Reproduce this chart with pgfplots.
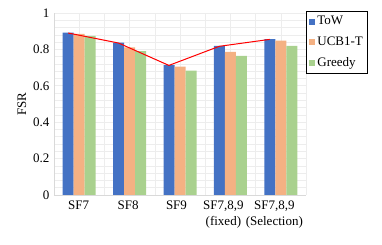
\documentclass[border=0pt]{standalone}
\usepackage{fontspec}
\setmainfont{Liberation Serif}
\newfontfamily\tnr{Liberation Serif}
\usepackage{pgfplots}
\pgfplotsset{compat=1.18}
\definecolor{cTow}{HTML}{4472C4}
\definecolor{cUcb}{HTML}{F4B183}
\definecolor{cGr}{HTML}{A9D18E}
\definecolor{gmaj}{HTML}{D9D9D9}
\definecolor{gmin}{HTML}{EDEDED}
\newcommand{\pad}[1]{\rule{#1}{0pt}}
\begin{document}
\tnr\fontsize{13bp}{15bp}\selectfont
\begin{tikzpicture}[font=\tnr]
\begin{axis}[
  at={(0,0)}, anchor=south west,
  scale only axis,
  width=252bp, height=182bp,
  ybar=0pt, bar width=11bp,
  xmin=-0.5, xmax=4.5,
  ymin=0, ymax=1,
  xtick={0,1,2,3,4},
  xticklabels={SF7\pad{1bp},SF8\pad{3bp},SF9\pad{7bp},{SF7,8,9\pad{14bp}\\(fixed)\pad{14bp}},{SF7,8,9\pad{13bp}\\(Selection)\pad{13bp}}},
  xticklabel style={align=center, font=\tnr\fontsize{13bp}{16bp}\selectfont, yshift=-1bp},
  minor xtick={-0.5,0.5,1.5,2.5,3.5,4.5},
  ytick={0,0.2,0.4,0.6,0.8,1},
  minor ytick={0.04,0.08,...,0.97},
  yticklabel style={font=\tnr\fontsize{13bp}{15bp}\selectfont},
  /pgf/number format/assume math mode=true,
  major tick length=0pt, minor tick length=0pt,
  ymajorgrids, xminorgrids, yminorgrids, xmajorgrids,
  major grid style={gmin, line width=0.6bp},
  minor grid style={gmin, line width=0.6bp},
  axis line style={gmaj, line width=0.8bp},
  axis x line*=bottom, axis y line*=left,
  ylabel={FSR},
  ylabel style={font=\tnr\fontsize{13bp}{15bp}\selectfont, yshift=-2bp},
  legend style={at={(1,1.011)}, anchor=north west, draw=black, line width=0.8bp,
    font=\tnr\fontsize{13bp}{15bp}\selectfont, row sep=6bp, inner sep=3bp,
    cells={anchor=west}},
  legend image code/.code={\fill[#1] (0bp,-3bp) rectangle (6bp,3bp);},
]
\addplot[fill=cTow, draw=none] coordinates {(0,0.892) (1,0.837) (2,0.714) (3,0.819) (4,0.857)};
\addplot[fill=cUcb, draw=none] coordinates {(0,0.885) (1,0.811) (2,0.705) (3,0.786) (4,0.848)};
\addplot[fill=cGr, draw=none] coordinates {(0,0.874) (1,0.791) (2,0.683) (3,0.764) (4,0.820)};
\legend{ToW,UCB1-T,Greedy}
\addplot[red, line width=1bp, sharp plot, forget plot] coordinates {(-0.22,0.890) (0.78,0.835) (1.78,0.712) (2.78,0.817) (3.78,0.855)};
\end{axis}
\useasboundingbox (-54bp,-50bp) rectangle (328bp,195bp);
\end{tikzpicture}
\end{document}
